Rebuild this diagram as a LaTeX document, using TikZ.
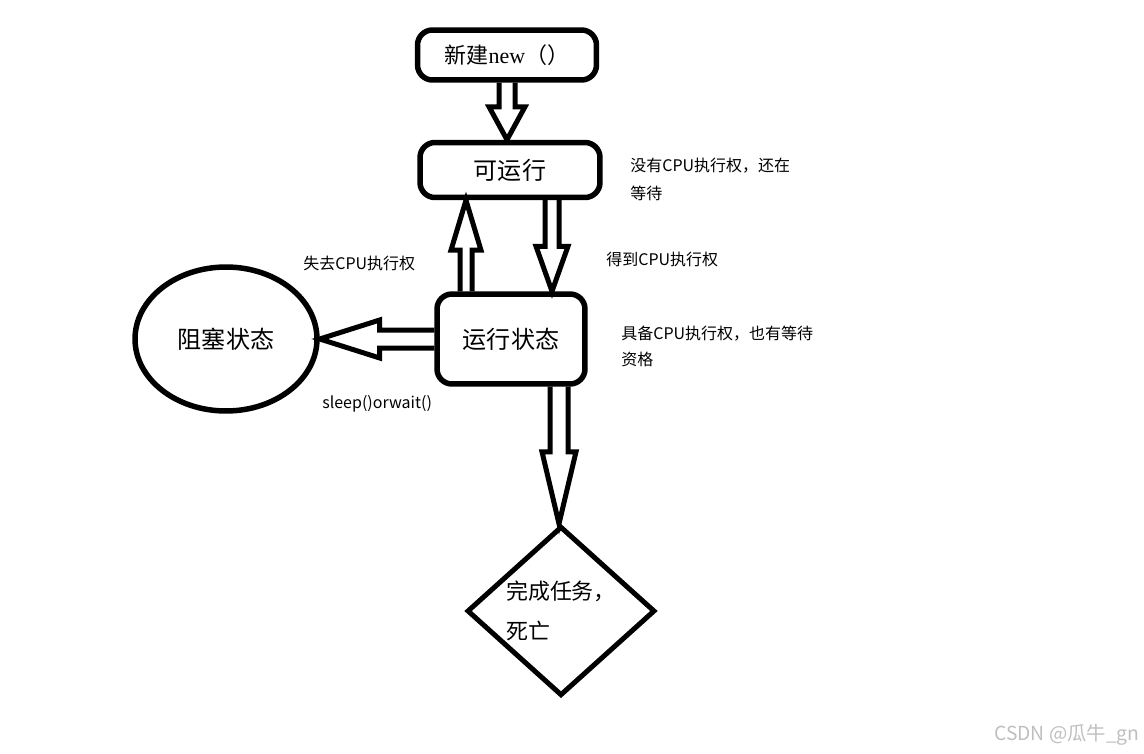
\documentclass[tikz,border=0pt]{standalone}
\usepackage{fontspec}
\setmainfont{Noto Sans CJK SC}
\newfontfamily\serifnew{Liberation Serif}
\usetikzlibrary{shapes.geometric,calc}
\tikzset{
  box/.style={draw, line width=0.11cm, rounded corners=0.3cm, inner sep=0pt,
    font=\fontsize{13.7}{16}\selectfont},
  harrow/.style={draw, line width=0.1cm, line join=miter},
  lbl/.style={inner sep=0pt, font=\fontsize{9.1}{16}\selectfont, align=left},
}
\begin{document}
\begin{tikzpicture}[x=0.02cm, y=-0.02cm]
\useasboundingbox[fill=white] (0,0) rectangle (1144,754);
% nodes
\node[box, minimum width=3.58cm, minimum height=1.0cm, font=\fontsize{12.5}{15}\selectfont] (new) at (507,55) {新建{\serifnew new}（）};
\node[box, minimum width=3.6cm, minimum height=1.1cm] (run) at (510,170) {可运行};
\node[box, minimum width=2.96cm, minimum height=1.8cm] (state) at (511,339) {运行状态};
\node[draw, ellipse, line width=0.11cm, minimum width=3.64cm, minimum height=2.88cm, inner sep=0pt,
  font=\fontsize{13.7}{16}\selectfont] (block) at (226,339) {阻塞状态};
\node[draw, diamond, line width=0.1cm, minimum width=3.76cm, minimum height=3.24cm, inner sep=0pt,
  align=left, font=\fontsize{12.5}{22.5}\selectfont] (die) at (561,611) {完成任务，\\死亡};
% new -> run
\draw[harrow] ($(new.south)+(-8,0)$) -- ($(new.south |- run.north)+(-8,-33)$) -- ++(-10,0)
  -- (new.south |- run.north) -- ++(18,-33) -- ++(-10,0) -- ($(new.south)+(8,0)$);
% state -> run (up)
\coordinate (ub) at ($(state.north)+(-45,0)$);
\draw[harrow] ($(ub)+(-6,0)$) -- ($(ub |- run.south)+(-6,50)$) -- ++(-9,0)
  -- (ub |- run.south) -- ++(15,50) -- ++(-9,0) -- ($(ub)+(6,0)$);
% run -> state (down)
\coordinate (db) at ($(run.south)+(42,0)$);
\draw[harrow] ($(db)+(-7,0)$) -- ($(db |- state.north)+(-7,-45)$) -- ++(-9,0)
  -- (db |- state.north) -- ++(16,-45) -- ++(-9,0) -- ($(db)+(7,0)$);
% state -> block (left)
\draw[harrow] ($(state.west)+(0,-9)$) -- ($(block.east)+(60,-9)$) -- ++(0,-10)
  -- (block.east) -- ++(60,19) -- ++(0,-10) -- ($(state.west)+(0,9)$);
% state -> die (down)
\coordinate (eb) at ($(state.south)+(48,0)$);
\draw[harrow] ($(eb)+(-9,0)$) -- ($(eb |- die.north)+(-9,-72)$) -- ++(-8,0)
  -- (eb |- die.north) -- ++(17,-72) -- ++(-8,0) -- ($(eb)+(9,0)$);
% labels
\node[lbl, anchor=north west] (l1) at (630,158) {没有CPU执行权，还在\\等待};
\node[lbl, anchor=west] (l2) at (606,259) {得到CPU执行权};
\node[lbl, anchor=west] (l3) at (303,263) {失去CPU执行权};
\node[lbl, anchor=north west, font=\fontsize{9.1}{14.8}\selectfont] (l4) at (621,326) {具备CPU执行权，也有等待\\资格};
\node[lbl, anchor=west] (l5) at (322,404) {sleep()orwait()};
\node[inner sep=0pt, anchor=east, text=black!25, font=\fontsize{11}{12}\selectfont] (wm) at (1140,735) {CSDN @瓜牛\_gn};
\end{tikzpicture}
\end{document}
